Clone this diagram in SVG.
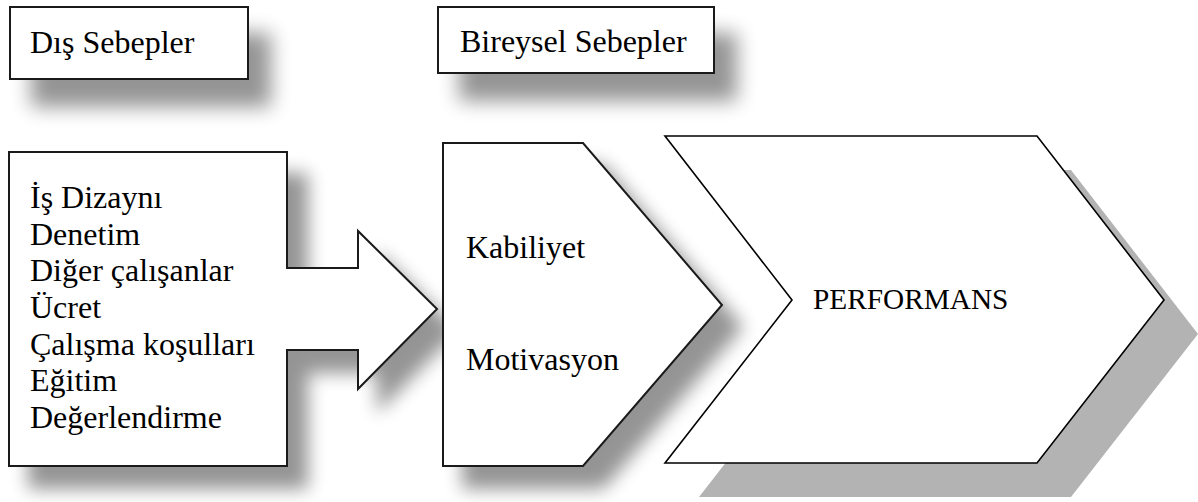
<svg xmlns="http://www.w3.org/2000/svg" width="1198" height="502" viewBox="0 0 1198 502">
  <style>
    .shape { fill: #ffffff; stroke: #1a1a1a; stroke-width: 2; stroke-linejoin: miter; }
    .chevron { fill: #ffffff; stroke: #000000; stroke-width: 1.6; stroke-linejoin: miter; }
    .hard-shadow { fill: #b3b3b3; stroke: none; }
    text { font-family: 'Liberation Serif', 'DejaVu Serif', serif; fill: #000000; }
    .label { font-size: 32px; }
    .title { font-size: 29.3px; }
  </style>
  <defs>
    <!-- soft offset drop shadow used by the boxes and arrows -->
    <filter id="soft-shadow" x="-20%" y="-20%" width="150%" height="160%" color-interpolation-filters="sRGB">
      <feGaussianBlur in="SourceAlpha" stdDeviation="9" result="blur"/>
      <feOffset in="blur" dx="20" dy="22" result="off"/>
      <feComponentTransfer in="off" result="shade">
        <feFuncA type="linear" slope="0.42"/>
      </feComponentTransfer>
      <feMerge>
        <feMergeNode in="shade"/>
        <feMergeNode in="SourceGraphic"/>
      </feMerge>
    </filter>
    <!-- wider, lower shadow for the two header boxes -->
    <filter id="header-shadow" x="-20%" y="-30%" width="150%" height="220%" color-interpolation-filters="sRGB">
      <feGaussianBlur in="SourceAlpha" stdDeviation="10" result="blur"/>
      <feOffset in="blur" dx="22" dy="27" result="off"/>
      <feComponentTransfer in="off" result="shade">
        <feFuncA type="linear" slope="0.42"/>
      </feComponentTransfer>
      <feMerge>
        <feMergeNode in="shade"/>
        <feMergeNode in="SourceGraphic"/>
      </feMerge>
    </filter>
  </defs>

  <!-- header: external causes -->
  <g id="node-dis-sebepler">
    <rect class="shape" x="10" y="7" width="238" height="72" filter="url(#header-shadow)"/>
    <text class="label" x="30" y="53">Dış Sebepler</text>
  </g>

  <!-- header: individual causes -->
  <g id="node-bireysel-sebepler">
    <rect class="shape" x="438" y="7" width="276" height="66" filter="url(#header-shadow)"/>
    <text class="label" x="460" y="52">Bireysel Sebepler</text>
  </g>

  <!-- list of external factors with an arrow pointing right -->
  <g id="node-dis-faktorler">
    <polygon class="shape" filter="url(#soft-shadow)"
      points="9,152 287,152 287,268 358,268 358,231 437,309 358,389 358,350 287,350 287,466 9,466"/>
    <text class="label" x="30" y="208">İş Dizaynı</text>
    <text class="label" x="30" y="244.7">Denetim</text>
    <text class="label" x="30" y="281.3">Diğer çalışanlar</text>
    <text class="label" x="30" y="318">Ücret</text>
    <text class="label" x="30" y="354.7">Çalışma koşulları</text>
    <text class="label" x="30" y="391.3">Eğitim</text>
    <text class="label" x="30" y="428">Değerlendirme</text>
  </g>

  <!-- individual factors pentagon -->
  <g id="node-bireysel-faktorler">
    <polygon class="shape" filter="url(#soft-shadow)"
      points="443,143 583,143 722,305 583,466 443,466"/>
    <text class="label" x="466" y="258">Kabiliyet</text>
    <text class="label" x="466" y="370">Motivasyon</text>
  </g>

  <!-- performance chevron with a flat offset shadow -->
  <g id="node-performans">
    <polygon class="hard-shadow" points="699,170 1071,170 1198,334 1071,497 699,497 826,334"/>
    <polygon class="chevron" points="665,136 1037,136 1164,300 1037,463 665,463 792,300"/>
    <text class="title" x="813" y="309">PERFORMANS</text>
  </g>

  <g id="connectors"></g>
</svg>
